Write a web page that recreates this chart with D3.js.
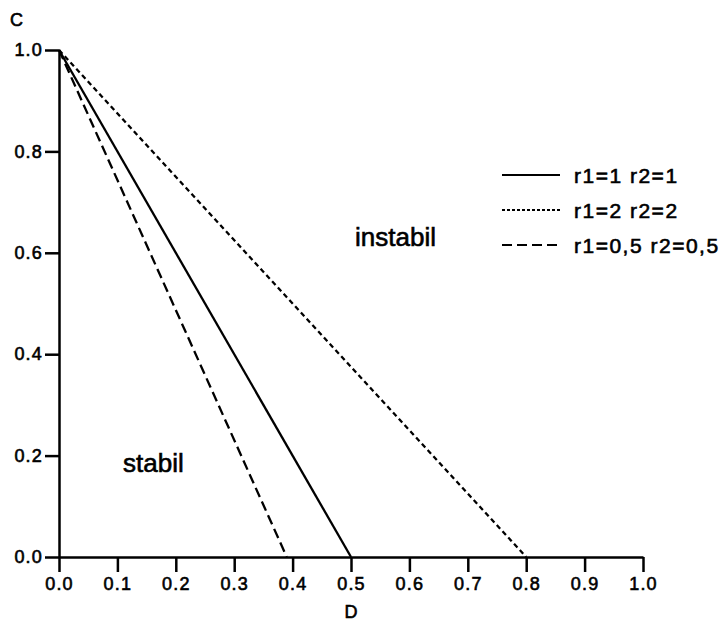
<!DOCTYPE html>
<html>
<head>
<meta charset="utf-8">
<script src="https://cdn.jsdelivr.net/npm/d3@7"></script>
<style>
  body { margin: 0; background: #fff; }
  text { font-family: "Liberation Sans", Arial, sans-serif; fill: #000; stroke: #000; stroke-width: 0.6px; }
</style>
</head>
<body>
<div id="viz"></div>
<script>
// data
var seriesNames = ["r1=1 r2=1", "r1=2 r2=2", "r1=0,5 r2=0,5"];
var solidD  = [0.0, 0.5],  solidC  = [1.0, 0.0];
var dottedD = [0.0, 0.8],  dottedC = [1.0, 0.0];
var dashedD = [0.0, 0.39], dashedC = [1.0, 0.0];
var xTicks = [0, 0.1, 0.2, 0.3, 0.4, 0.5, 0.6, 0.7, 0.8, 0.9, 1.0];
var yTicks = [0, 0.2, 0.4, 0.6, 0.8, 1.0];

// set the dimensions and margins of the graph
var margin = {top: 50, right: 80, bottom: 67, left: 59},
    width = 723 - margin.left - margin.right,
    height = 624 - margin.top - margin.bottom;

var svg = d3.select("#viz")
  .append("svg")
    .attr("width", 723)
    .attr("height", 624)
  .append("g")
    .attr("transform", "translate(" + margin.left + "," + margin.top + ")");

var x = d3.scaleLinear().domain([0, 1]).range([0, 584]);
var y = d3.scaleLinear().domain([0, 1]).range([height, 0]);

// X axis
var xAxis = svg.append("g")
    .attr("transform", "translate(0," + height + ")")
    .call(d3.axisBottom(x).tickValues(xTicks).tickFormat(d3.format(".1f"))
        .tickSize(15).tickSizeOuter(0).tickPadding(5));

// Y axis
var yAxis = svg.append("g")
    .call(d3.axisLeft(y).tickValues(yTicks).tickFormat(d3.format(".1f"))
        .tickSize(14).tickSizeOuter(0).tickPadding(2));

[xAxis, yAxis].forEach(function(a) {
  a.select(".domain").attr("stroke", "#000").attr("stroke-width", 2.5);
  a.selectAll(".tick line").attr("stroke", "#000").attr("stroke-width", 2.5);
  a.selectAll(".tick text")
    .style("font-size", "18px")
    .style("letter-spacing", "1.2px")
    .attr("fill", "#000");
});

// axis titles
svg.append("text").attr("x", -49).attr("y", -24).style("font-size", "18px").text("C");
svg.append("text").attr("x", x(0.5)).attr("y", height + 61).attr("text-anchor", "middle")
  .style("font-size", "18px").text("D");

// lines
var styles = [null, "5,3.5", "10,5"];
var series = [
  {d: solidD, c: solidC},
  {d: dottedD, c: dottedC},
  {d: dashedD, c: dashedC}
];

var line = d3.line()
  .x(function(p) { return x(p[0]); })
  .y(function(p) { return y(p[1]); });

series.forEach(function(s, i) {
  svg.append("path")
    .datum(d3.zip(s.d, s.c))
    .attr("d", line)
    .attr("fill", "none")
    .attr("stroke", "#000")
    .attr("stroke-width", 2.3)
    .attr("stroke-dasharray", styles[i]);
});

// region labels
svg.append("text").attr("x", 296).attr("y", 196).style("font-size", "26px").text("instabil");
svg.append("text").attr("x", 64).attr("y", 422).style("font-size", "26px").text("stabil");

// legend
var legend = svg.append("g").attr("transform", "translate(443,125)");
seriesNames.forEach(function(name, i) {
  var g = legend.append("g").attr("transform", "translate(0," + (i * 35) + ")");
  g.append("line")
    .attr("x1", 0).attr("x2", 58).attr("y1", 0).attr("y2", 0)
    .attr("stroke", "#000").attr("stroke-width", 2)
    .attr("stroke-dasharray", i == 1 ? "3,2" : styles[i]);
  g.append("text")
    .attr("x", 72).attr("y", 8)
    .style("font-size", "21px")
    .style("letter-spacing", "1.5px")
    .text(name);
});
</script>
</body>
</html>
